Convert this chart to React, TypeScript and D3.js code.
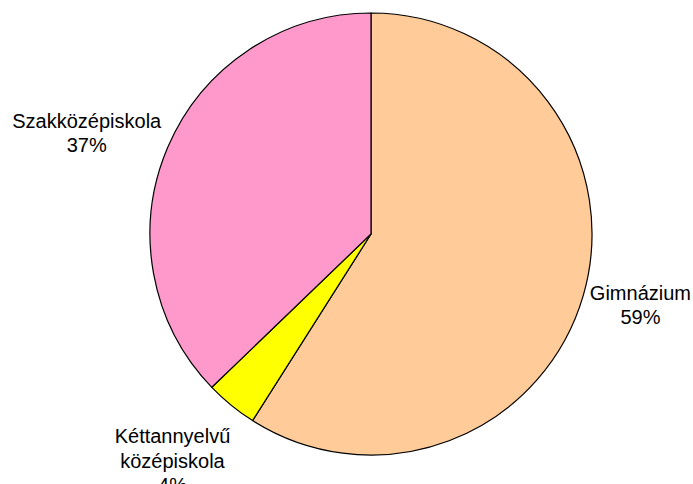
import { useEffect, useRef } from 'react';
import * as d3 from 'd3';

const categories = ['Gimnázium', 'Kéttannyelvű középiskola', 'Szakközépiskola'];
const labelLines = [['Gimnázium'], ['Kéttannyelvű', 'középiskola'], ['Szakközépiskola']];
const shares = [59.0, 3.8, 37.2];
const colors = ['#FFCC99', '#FFFF00', '#FF99CC'];

const width = 693;
const height = 484;

export default function App() {
    const svgRef = useRef<SVGSVGElement>(null);

    useEffect(() => {
        if (!svgRef.current) return;
        const svg = d3.select(svgRef.current);
        svg.selectAll('*').remove();

        const cx = 371;
        const cy = 234;
        const radius = 221;
        const fontSize = 20;
        const lineHeight = 24.5;
        const labelRadius = 234;
        // kézzel odébb húzott címkék (sugárirányú eltolás)
        const labelNudge = [-4, 22, 0];

        const pie = d3.pie<number>().sort(null).value(d => d);
        const arcs = pie(shares);

        const arc = d3.arc<d3.PieArcDatum<number>>()
            .innerRadius(0)
            .outerRadius(radius);

        const g = svg.append('g').attr('transform', `translate(${cx},${cy})`);

        // szeletek
        g.selectAll('path')
            .data(arcs)
            .join('path')
            .attr('d', arc)
            .attr('fill', (_, i) => colors[i])
            .attr('stroke', '#000')
            .attr('stroke-width', 1.2)
            .attr('stroke-linejoin', 'round');

        // címkék
        arcs.forEach((a, i) => {
            const mid = (a.startAngle + a.endAngle) / 2;
            const sx = Math.sin(mid);
            const sy = -Math.cos(mid);
            const lines = [...labelLines[i], `${Math.round(shares[i])}%`];

            const text = g.append('text')
                .attr('text-anchor', 'middle')
                .style('font-family', 'Arial, "Liberation Sans", sans-serif')
                .style('font-size', `${fontSize}px`)
                .style('fill', '#000')
                .attr('aria-label', categories[i]);

            lines.forEach((l, j) => {
                text.append('tspan')
                    .attr('x', 0)
                    .attr('y', j * lineHeight)
                    .text(l);
            });

            const bb = (text.node() as SVGTextElement).getBBox();
            const w = bb.width;
            const h = lines.length * lineHeight;
            const r = labelRadius + labelNudge[i];
            const ax = sx * r;
            const ay = sy * r;
            const bx = ax + sx * w / 2;
            const by = ay + sy * h / 2;
            // a szövegblokk közepét igazítjuk a pontra
            const blockMid = (lines.length - 1) * lineHeight / 2 - fontSize * 0.35;
            text.attr('transform', `translate(${bx},${by - blockMid})`);
        });
    }, []);

    return (
        <svg
            ref={svgRef}
            width={width}
            height={height}
            style={{ position: 'absolute', left: 0, top: 0, background: '#fff' }}
        />
    );
}
